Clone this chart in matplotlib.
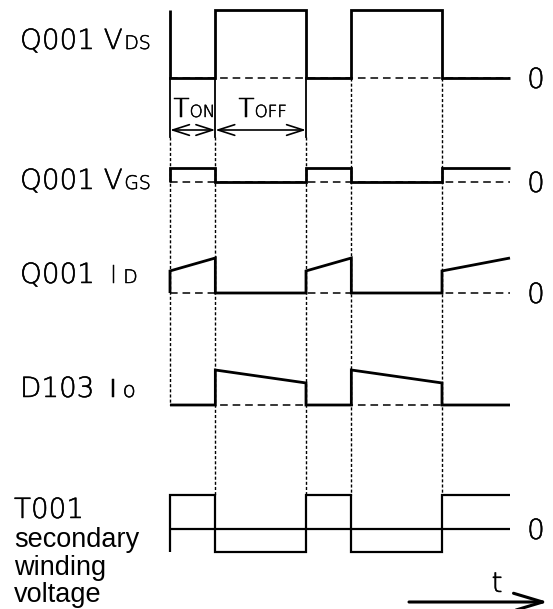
import matplotlib
matplotlib.use("Agg")
import matplotlib.pyplot as plt
import matplotlib.transforms as mtransforms
import matplotlib.patheffects as pe

# ---------------- data ----------------
edges = [0, 1, 3, 4, 6, 7.5]          # switching instants (units of T_ON)
vds_levels = [0, 1, 0, 1, 0]          # Q001 VDS per interval
vgs_levels = [1, 0, 1, 0, 1]          # Q001 VGS per interval
id_start = [0.63, 0, 0.63, 0, 0.63]   # Q001 ID ramp start per interval
id_end = [1.0, 0, 1.0, 0, 1.0]        # Q001 ID ramp end per interval
io_start = [0, 1.0, 0, 1.0, 0]        # D103 IO ramp start
io_end = [0, 0.63, 0, 0.63, 0]        # D103 IO ramp end
t001_levels = [1, -0.68, 1, -0.68, 1] # T001 secondary voltage
prev_levels = {"vds": 1, "vgs": 0, "id": 0, "io": None, "t001": -0.68}

W, H = 553, 609
fig = plt.figure(figsize=(W / 100, H / 100), dpi=100)
ax = fig.add_axes([0, 0, 1, 1])
X0, UNIT = 170, 340 / 7.5
ax.set_xlim(-X0 / UNIT, (W - X0) / UNIT)
ax.set_ylim(H, 0)
ax.axis("off")

px = mtransforms.Affine2D().scale(1, -1).translate(0, H)  # pixel (from top) -> display

def trace(starts, ends, prev):
    xs, ys = [], []
    if prev is not None:
        xs.append(edges[0]); ys.append(prev)
    for i in range(len(starts)):
        xs += [edges[i], edges[i + 1]]
        ys += [starts[i], ends[i]]
    return xs, ys

# layout: (baseline px, amplitude px)
lay = {"vds": (78, 68), "vgs": (182, 14), "id": (293, 35), "io": (405, 35), "t001": (529, 34)}
series = {
    "vds": (vds_levels, vds_levels),
    "vgs": (vgs_levels, vgs_levels),
    "id": (id_start, id_end),
    "io": (io_start, io_end),
    "t001": (t001_levels, t001_levels),
}

dash = dict(color="black", lw=1.1, dashes=(5, 3.2))
dot = dict(color="black", lw=1.0, dashes=(2.2, 1.5))

for key, (s, e) in series.items():
    base, amp = lay[key]
    xs, ys = trace(s, e, prev_levels[key])
    if key == "t001":
        ax.plot([edges[0], edges[-1]], [base, base], color="black", lw=1.6, solid_capstyle="butt")
        lw = 1.6
    else:
        ax.plot([edges[0], edges[-1]], [base, base], **dash)
        lw = 2.0
    ax.plot(xs, [base - amp * y for y in ys], color="black", lw=lw,
            solid_joinstyle="miter", solid_capstyle="butt")

# vertical guides
arrow_y = 130
sep_bottom = 137
for t in edges[:3]:
    ax.plot([t, t], [lay["vds"][0], sep_bottom], color="black", lw=1.3)
ax.plot([edges[0], edges[0]], [sep_bottom, lay["io"][0]], **dot)
for t in edges[1:3]:
    ax.plot([t, t], [sep_bottom, lay["t001"][0] - lay["t001"][1]], **dot)
for t in edges[3:5]:
    ax.plot([t, t], [lay["vds"][0], lay["t001"][0] - lay["t001"][1]], **dot)

# TON / TOFF arrows
for a, b in [(edges[0], edges[1]), (edges[1], edges[2])]:
    ax.annotate("", xy=(b, arrow_y), xytext=(a, arrow_y),
                arrowprops=dict(arrowstyle="<->,head_length=1.0,head_width=0.32",
                                lw=1.2, color="black", shrinkA=0, shrinkB=0,
                                mutation_scale=12))

# ---------------- text ----------------
thick = [pe.withStroke(linewidth=0.35, foreground="black")]
dfont = dict(family=["DejaVu Sans"], weight="light", color="black", path_effects=thick)
BIG, SMALL = 20, 13.5
fig.canvas.draw()
rend = fig.canvas.get_renderer()

def composite(x, y, parts, gap=1.5):
    for txt, size in parts:
        t = ax.text(x, y, txt, transform=px, fontsize=size, ha="left", va="baseline", **dfont)
        bb = t.get_window_extent(rend)
        x = bb.x1 + gap

composite(20, 49, [("Q001 V", BIG), ("DS", SMALL)])
composite(20, 189, [("Q001 V", BIG), ("GS", SMALL)])
composite(20, 283, [("Q001 ", BIG), ("I", BIG - 2), ("D", SMALL)], gap=6)
composite(20, 397, [("D103 ", BIG), ("I", BIG - 2), ("o", SMALL + 2)], gap=6)
composite(14, 518, [("T001", BIG)])
composite(173, 117, [("T", BIG - 1), ("ON", 12)], gap=0.5)
composite(238, 117, [("T", BIG - 1), ("OFF", 12)], gap=0.5)

sfont = dict(family=["Liberation Sans", "DejaVu Sans"], fontsize=19.5, color="black")
for txt, yb in [("secondary", 547), ("winding", 575), ("voltage", 602)]:
    ax.text(14, yb, txt, transform=px, ha="left", va="baseline", **sfont)

for key in ["vds", "vgs", "id", "t001"]:
    ax.text(536, lay[key][0] + 10, "0", transform=px, ha="center", va="baseline",
            fontsize=BIG, **dfont)

# time arrow
ax.text(497, 592, "t", transform=px, ha="center", va="baseline", fontsize=20, **dfont)
ax.annotate("", xy=(548, 602), xytext=(409, 602), xycoords=px, textcoords=px,
            arrowprops=dict(arrowstyle="->,head_length=1.5,head_width=0.45",
                            lw=2.2, color="black", shrinkA=0, shrinkB=0,
                            mutation_scale=14))

fig.savefig("out.png", dpi=100)
